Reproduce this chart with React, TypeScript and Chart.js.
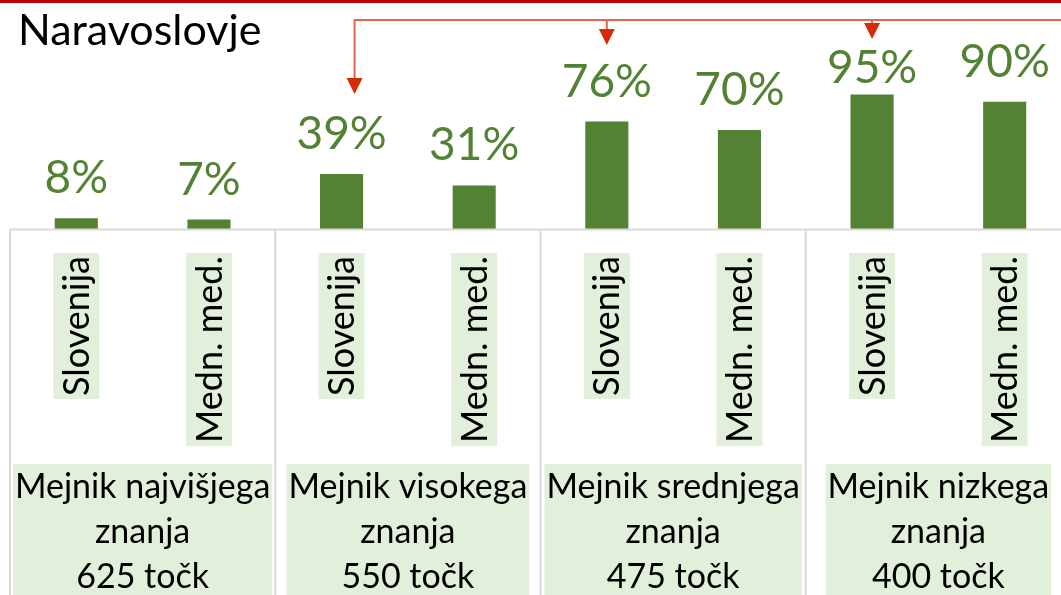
import React, { useEffect, useRef } from "react";
import { Chart, registerables } from "chart.js";

Chart.register(...registerables);

const title = "Naravoslovje";
const categories = [
  "Slovenija", "Medn. med.",
  "Slovenija", "Medn. med.",
  "Slovenija", "Medn. med.",
  "Slovenija", "Medn. med.",
];
const groupLabels = [
  ["Mejnik najvišjega", "znanja", "625 točk"],
  ["Mejnik visokega", "znanja", "550 točk"],
  ["Mejnik srednjega", "znanja", "475 točk"],
  ["Mejnik nizkega", "znanja", "400 točk"],
];
const values = [8, 7, 39, 31, 76, 70, 95, 90];
const arrowTargets = [2, 4, 6];

const FONT = "Lato, 'Open Sans', sans-serif";
const GREEN = "#548235";
const LIGHT = "#E2EFDA";

const overlay = {
  id: "overlay",
  afterDraw(chart: any) {
    const ctx = chart.ctx as CanvasRenderingContext2D;
    const xs = chart.scales.x;
    const area = chart.chartArea;
    const W = chart.width;
    const H = chart.height;
    const slot = xs.getPixelForValue(1) - xs.getPixelForValue(0);
    ctx.save();

    // top red rule
    ctx.fillStyle = "#C00000";
    ctx.fillRect(0, 0, W, 3);

    // title
    ctx.fillStyle = "#000000";
    ctx.font = `43px ${FONT}`;
    ctx.textAlign = "left";
    ctx.textBaseline = "alphabetic";
    ctx.fillText(title, 18, 45);

    // value labels
    const meta = chart.getDatasetMeta(0);
    ctx.font = `46px ${FONT}`;
    ctx.fillStyle = GREEN;
    ctx.textAlign = "center";
    meta.data.forEach((bar: any, i: number) => {
      const gap = i === 6 ? 12 : 25;
      ctx.fillText(`${values[i]}%`, bar.x, bar.y - gap);
    });

    // connectors and arrows
    const lineY = 20;
    const tips = [94, 45, 39];
    const ax = arrowTargets.map((idx, k) => xs.getPixelForValue(idx) + (k === 0 ? 13 : 0));
    ctx.strokeStyle = "#E5664D";
    ctx.lineWidth = 2;
    ctx.beginPath();
    ctx.moveTo(ax[0], tips[0] - 15);
    ctx.lineTo(ax[0], lineY);
    ctx.lineTo(W, lineY);
    for (let k = 1; k < ax.length; k++) {
      ctx.moveTo(ax[k], lineY);
      ctx.lineTo(ax[k], tips[k] - 15);
    }
    ctx.stroke();
    ctx.fillStyle = "#D52B0B";
    ax.forEach((px, k) => {
      ctx.beginPath();
      ctx.moveTo(px - 8, tips[k] - 16);
      ctx.lineTo(px + 8, tips[k] - 16);
      ctx.lineTo(px, tips[k]);
      ctx.closePath();
      ctx.fill();
    });

    // axis box
    ctx.strokeStyle = "#D9D9D9";
    ctx.lineWidth = 2;
    ctx.beginPath();
    ctx.moveTo(area.left, area.bottom);
    ctx.lineTo(W, area.bottom);
    for (let g = 0; g < groupLabels.length; g++) {
      const bx = xs.getPixelForValue(g * 2) - slot / 2;
      ctx.moveTo(bx, area.bottom);
      ctx.lineTo(bx, H);
    }
    ctx.stroke();

    // rotated category labels
    ctx.font = `36px ${FONT}`;
    const labTop = area.bottom + 23.5;
    categories.forEach((lab, i) => {
      const cx = xs.getPixelForValue(i);
      const w = ctx.measureText(lab).width;
      ctx.fillStyle = LIGHT;
      ctx.fillRect(cx - 23, labTop, 46, w + 6);
      ctx.save();
      ctx.translate(cx, labTop);
      ctx.rotate(-Math.PI / 2);
      ctx.fillStyle = "#000000";
      ctx.textAlign = "right";
      ctx.textBaseline = "middle";
      ctx.fillText(lab, -3, 1);
      ctx.restore();
    });

    // group labels
    ctx.font = `34px ${FONT}`;
    ctx.textAlign = "center";
    ctx.textBaseline = "alphabetic";
    const baselines = [498, 543, 588];
    groupLabels.forEach((lines, g) => {
      const gx = (xs.getPixelForValue(g * 2) + xs.getPixelForValue(g * 2 + 1)) / 2;
      const mw = Math.max(...lines.map((l) => ctx.measureText(l).width));
      ctx.fillStyle = LIGHT;
      ctx.fillRect(gx - mw / 2 - 2, 464, mw + 4, H - 464);
      ctx.fillStyle = "#000000";
      lines.forEach((l, k) => ctx.fillText(l, gx, baselines[k]));
    });

    ctx.restore();
  },
};

export default function App() {
  const ref = useRef<HTMLCanvasElement | null>(null);
  useEffect(() => {
    if (!ref.current) return;
    const chart = new Chart(ref.current, {
      type: "bar",
      data: {
        labels: categories,
        datasets: [
          {
            data: values,
            backgroundColor: GREEN,
            borderWidth: 0,
            categoryPercentage: 1,
            barPercentage: 0.325,
          },
        ],
      },
      options: {
        responsive: false,
        animation: false,
        devicePixelRatio: 1,
        layout: { padding: { left: 10, right: 9, top: 87.5, bottom: 365.5 } },
        plugins: { legend: { display: false }, tooltip: { enabled: false } },
        scales: {
          x: { display: false },
          y: { display: false, min: 0, max: 100 },
        },
      },
      plugins: [overlay],
    });
    return () => chart.destroy();
  }, []);
  return (
    <div
      style={{
        position: "fixed",
        left: 0,
        top: 0,
        width: 1061,
        height: 595,
        overflow: "hidden",
        background: "#ffffff",
      }}
    >
      <canvas ref={ref} width={1080} height={595} style={{ display: "block", width: 1080, height: 595 }} />
    </div>
  );
}
